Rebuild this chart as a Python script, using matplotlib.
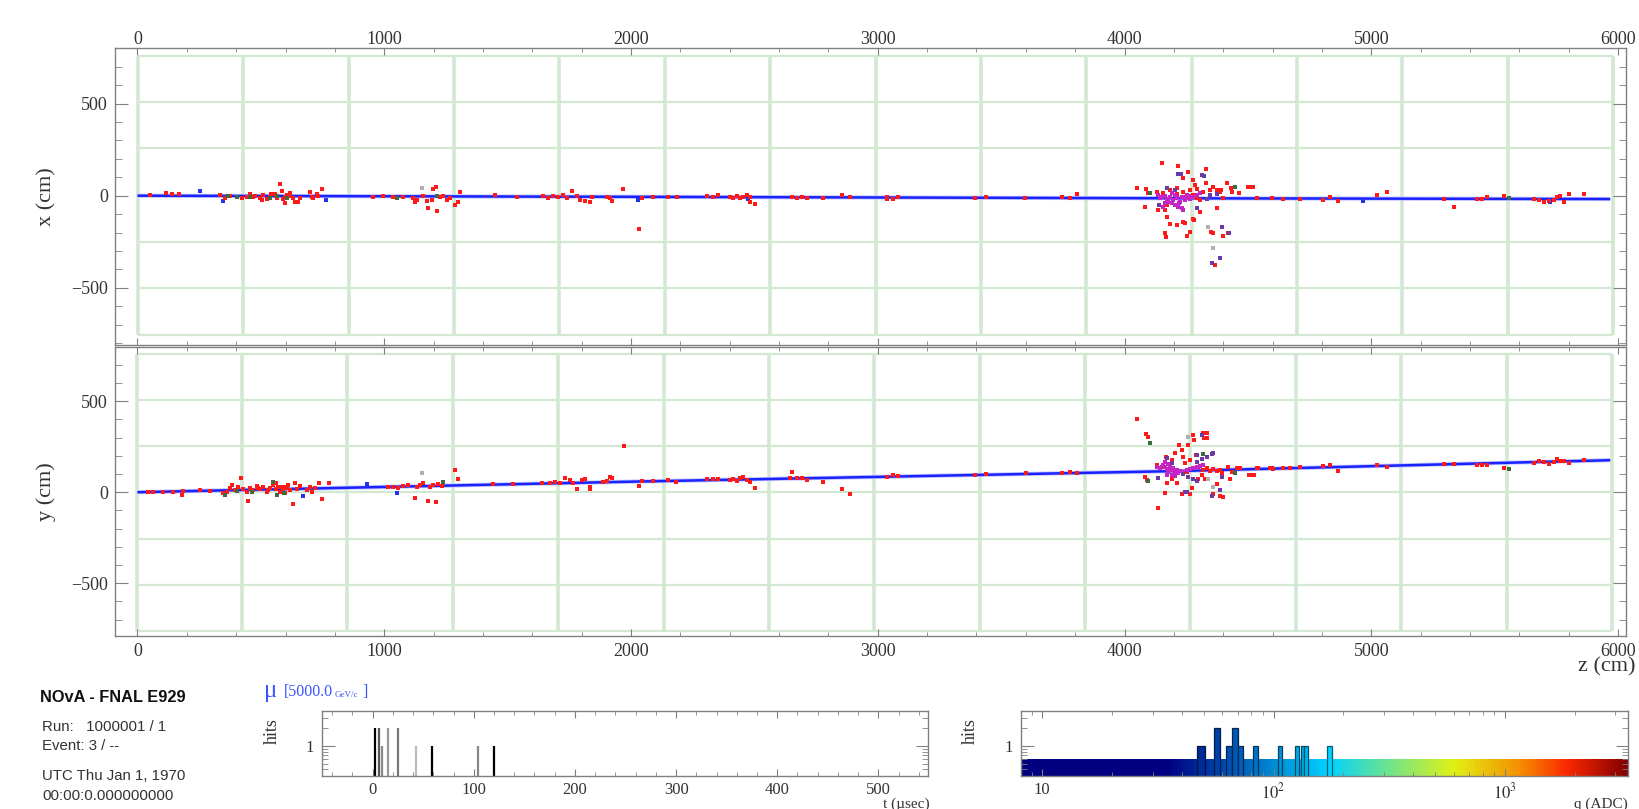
import numpy as np
import matplotlib.pyplot as plt
from matplotlib import ticker
from matplotlib.colors import LinearSegmentedColormap

W, H = 1639, 809

# detector outline (cm)
det_planes_xv = [2, 429, 856, 1283, 1710, 2137, 2564, 2991, 3418, 3845, 4272, 4699, 5126, 5553, 5980]
det_planes_yv = [-3, 424, 851, 1278, 1705, 2132, 2559, 2986, 3413, 3840, 4267, 4694, 5121, 5548, 5975]
det_rows_xv = [-757, -504, -251, 257, 510, 761]
det_rows_yv = [-760, -508, -255, 0, 255, 508, 762]

# reconstructed muon track
track_xv_z = [0, 2000, 4200, 5968]
track_xv_x = [0, -6, -14, -18]
track_yv_z = [0, 2000, 4200, 5968]
track_yv_y = [0, 58, 116, 176]

# hits, x view (z, x)
xv_red = [(50, 3), (115, 13), (138, 7), (170, 7), (334, 4), (355, -10), (375, 0),
          (422, -14), (443, -5), (456, 7), (476, 0), (497, -10), (510, 4), (524, -18),
          (537, -5), (557, 7), (564, -14), (578, 61), (584, 25), (598, -5), (605, 4),
          (598, -41), (618, 0), (632, -14), (638, -36), (652, -32), (658, -10), (699, 18),
          (706, -5), (726, 7), (747, 34), (713, -14), (733, 0), (470, -8), (540, 10),
          (590, -20), (620, 12), (505, -22), (560, -2), (956, -5), (996, 0), (1037, -9),
          (1077, -5), (1118, -14), (1125, -36), (1131, -23), (1158, 0), (1172, -27),
          (1179, -68), (1192, -23), (1199, 36), (1210, 50), (1212, -83), (1226, -5),
          (1239, 0), (1253, -23), (1266, -14), (1287, -50), (1300, -32), (1307, 18),
          (1449, 4), (1537, -5), (1645, 0), (1665, -10), (1685, 0), (1706, -5), (1726, 4),
          (1739, -10), (1760, 25), (1780, 0), (1793, -23), (1814, -27), (1834, -36),
          (1841, -5), (1915, -14), (1969, 36), (1901, -8), (1922, -27), (2034, -181),
          (2043, -14), (2090, -5), (2151, -5), (2185, -5), (2307, -1), (2334, -5),
          (2354, 4), (2401, -5), (2415, -10), (2428, -1), (2442, -10), (2455, -5),
          (2469, 4), (2482, -8), (2482, -32), (2502, -45), (2651, -5), (2671, -10),
          (2691, -5), (2712, -14), (2779, -14), (2856, 4), (2887, -5), (3036, -5),
          (3038, -18), (3063, -20), (3083, -5), (3393, -14), (3440, -9), (3596, -14),
          (3745, -9), (3778, -10), (3806, 7), (4052, 44), (4086, 36), (4096, 16),
          (4083, -60), (4152, 176), (4216, 163), (4256, 127), (4330, 143), (4236, 94),
          (4279, 85), (4287, 58), (4330, 67), (4357, 49), (4390, 31), (4417, 67),
          (4431, 40), (4437, 22), (4464, 16), (4502, 49), (4511, 49), (4521, 49),
          (4130, 22), (4157, 13), (4184, 31), (4211, 40), (4238, 22), (4265, 31),
          (4292, 36), (4319, 22), (4346, 31), (4373, 31), (4386, 22), (4279, 4),
          (4238, -5), (4211, 9), (4292, -14), (4306, -23), (4171, -50), (4164, -77),
          (4137, -77), (4171, -117), (4184, -154), (4211, -159), (4238, -141),
          (4245, -150), (4265, -195), (4254, -217), (4164, -204), (4167, -226),
          (4279, -129), (4283, -132), (4306, -87), (4292, -69), (4349, -195),
          (4359, -201), (4397, -219), (4421, -201), (4400, -14), (4373, -69),
          (4366, -377), (4535, -14), (4596, -15), (4643, -20), (4711, -18), (4806, -23),
          (4833, -5), (4863, -29), (5023, 2), (5063, 18), (5293, -18), (5336, -60),
          (5428, -18), (5448, -18), (5469, -9), (5536, -2), (5658, -18), (5678, -23),
          (5698, -32), (5719, -27), (5739, -23), (5752, -5), (5766, -2), (5780, -32),
          (5800, 9), (5861, 7)]
xv_magenta = [(4137, 4), (4151, -8), (4164, -1), (4171, -19), (4178, -32), (4184, -8),
              (4191, -41), (4198, -23), (4205, -50), (4211, -14), (4218, -59), (4225, -32),
              (4232, -69), (4238, -77), (4232, -5), (4245, -23), (4252, 4), (4265, -19),
              (4279, -5), (4292, 4), (4306, 13), (4191, 13), (4164, -41), (4157, -59),
              (4205, 4), (4145, -10), (4220, -40), (4250, -10), (4175, -25), (4260, 0)]
xv_purple = [(4218, 116), (4228, 118), (4312, 114), (4322, 107), (4171, 40), (4141, -50),
             (4333, -19), (4346, 4), (4373, 9), (4393, -172), (4424, -201), (4386, -336),
             (4356, -368), (4292, -69), (4205, 31)]
xv_green = [(368, 0), (402, -5), (456, -5), (537, -10), (564, 0), (605, -10), (1050, -10),
            (1212, 0), (4448, 49), (4103, 13), (5556, -14)]
xv_gray = [(1152, 40), (4359, -284), (4339, -172)]
xv_blue = [(255, 25), (348, -29), (766, -23), (2030, -23), (2475, -20), (4968, -27),
           (5725, -36)]

# hits, y view (z, y)
yv_red = [(44, 2), (64, 2), (105, 4), (145, 4), (179, -16), (186, 7), (253, 13), (294, 7),
          (348, -5), (361, 4), (375, 22), (382, 40), (395, 13), (409, 31), (420, 77),
          (429, 16), (443, 4), (449, -47), (456, 22), (470, 13), (483, 35), (497, 16),
          (510, 31), (524, 4), (537, 22), (551, 40), (561, 49), (571, 31), (578, 4),
          (584, 27), (591, 13), (598, -5), (605, 22), (612, 40), (618, 13), (632, -64),
          (638, 53), (645, 16), (659, 35), (686, 13), (699, 31), (709, 4), (719, 22),
          (737, 49), (746, -37), (777, 49), (530, 10), (560, 20), (600, 30), (490, 25),
          (1016, 27), (1037, 31), (1057, 22), (1077, 35), (1098, 40), (1125, -33),
          (1131, 27), (1145, 40), (1158, 49), (1179, -46), (1186, 27), (1199, 40),
          (1210, -53), (1219, 45), (1233, 35), (1287, 123), (1300, 71), (1442, 45),
          (1523, 45), (1638, 49), (1672, 53), (1692, 58), (1712, 53), (1733, 77),
          (1753, 68), (1766, 53), (1780, 20), (1800, 68), (1814, 71), (1834, 31),
          (1834, 16), (1888, 58), (1915, 82), (1972, 256), (1901, 64), (1922, 80),
          (2034, 35), (2043, 64), (2090, 64), (2151, 68), (2182, 55), (2307, 71),
          (2334, 71), (2354, 71), (2401, 68), (2415, 71), (2428, 64), (2442, 77),
          (2453, 82), (2469, 68), (2482, 58), (2502, 22), (2651, 112), (2645, 77),
          (2671, 77), (2691, 77), (2712, 68), (2779, 58), (2856, 16), (2887, -10),
          (3036, 86), (3060, 95), (3083, 90), (3393, 95), (3440, 99), (3599, 104),
          (3745, 108), (3778, 110), (3806, 104), (4052, 403), (4087, 320), (4097, 302),
          (4130, 150), (4151, 141), (4169, 196), (4178, 123), (4192, 178), (4205, 214),
          (4219, 260), (4232, 232), (4238, 196), (4245, 161), (4252, 113), (4265, 178),
          (4279, 315), (4281, 287), (4319, 327), (4333, 327), (4322, 297), (4333, 297),
          (4258, 260), (4288, 205), (4297, 141), (4319, 123), (4333, 132), (4346, 119),
          (4359, 127), (4373, 119), (4386, 123), (4393, 108), (4421, 141), (4434, 113),
          (4454, 132), (4468, 132), (4505, 95), (4515, 95), (4525, 95), (4535, 132),
          (4590, 132), (4671, 135), (4083, 86), (4090, 68), (4137, -88), (4164, -3),
          (4171, 52), (4192, 70), (4211, 52), (4232, -12), (4265, -12), (4272, 24),
          (4297, 70), (4312, 97), (4326, 70), (4359, -12), (4373, 43), (4386, -22),
          (4397, -26), (4427, 70), (4542, 132), (4597, 132), (4603, 128), (4643, 135),
          (4711, 141), (4806, 145), (4833, 148), (4863, 114), (5023, 147), (5063, 141),
          (5293, 154), (5333, 154), (5428, 147), (5448, 150), (5469, 147), (5536, 135),
          (5658, 163), (5678, 174), (5698, 168), (5719, 155), (5739, 168), (5752, 181),
          (5766, 174), (5780, 174), (5800, 159), (5861, 177)]
yv_magenta = [(4130, 141), (4144, 132), (4157, 150), (4164, 168), (4171, 126), (4178, 113),
              (4184, 141), (4191, 123), (4198, 132), (4205, 113), (4211, 123), (4218, 108),
              (4225, 119), (4238, 113), (4252, 123), (4265, 126), (4279, 132), (4292, 141),
              (4306, 145), (4319, 150), (4164, 141), (4178, 156), (4191, 95), (4171, 95),
              (4205, 90)]
yv_purple = [(4292, 168), (4312, 181), (4333, 196), (4353, 209), (4359, 214), (4312, 315),
             (4292, 205), (4238, 101), (4258, 86), (4279, 72), (4292, 64), (4137, 77),
             (4171, 186), (4393, 82), (4245, 4), (4254, 4), (4353, -21), (4386, 13),
             (4191, 159)]
yv_green = [(355, -15), (402, 9), (463, 4), (551, 58), (564, -15), (595, -2), (1240, 58),
            (4103, 270), (4097, 59), (4319, 210), (4448, 104), (5556, 126)]
yv_gray = [(1152, 108), (4258, 302), (4339, 70), (4359, 29)]
yv_blue = [(672, -20), (929, 45), (1050, -2)]

# hit timing histogram
hit_t = [2.3, 6.5, 9.3, 14.8, 25.5, 43.2, 59.2, 104.3, 119.9]
hit_t_counts = [2, 2, 1, 2, 2, 1, 1, 1, 1]
hit_t_shade = ['#000000', '#555555', '#888888', '#999999', '#777777', '#bbbbbb',
               '#000000', '#888888', '#000000']

# hit charge histogram
q_lo = [46.8, 55.0, 62.5, 66.3, 70.3, 81.8, 104.5, 123.8, 131.8, 136.0, 170.0]
q_hi = [50.7, 58.7, 66.3, 70.3, 74.0, 85.9, 108.3, 128.5, 136.0, 140.5, 178.6]
q_counts = [1, 2, 1, 2, 1, 1, 1, 1, 1, 1, 1]

# charge palette (log10 q -> colour), as seen on the strip
palette_logq = [1.54, 2.24, 2.45, 2.78, 3.07, 3.27, 3.53]
palette_rgb = [(0, 0, 128), (0, 210, 255), (90, 225, 160), (225, 240, 20),
               (245, 140, 0), (250, 40, 0), (130, 0, 0)]

SERIF = ['Liberation Serif', 'DejaVu Serif']
SANS = ['Liberation Sans', 'DejaVu Sans']
plt.rcParams['font.family'] = SERIF
plt.rcParams['mathtext.fontset'] = 'stix'

GRID = '#d3e8d3'
FRAME = '#808080'
TXT = '#333333'


def px_axes(fig, l, t, r, b):
    return fig.add_axes([l / W, 1 - b / H, (r - l) / W, (b - t) / H])


def style_frame(ax):
    for s in ax.spines.values():
        s.set_color(FRAME)
        s.set_linewidth(1.0)
    ax.tick_params(which='both', direction='in', colors=FRAME, labelcolor=TXT,
                   top=True, bottom=True, left=True, right=True)


def scatter_hits(ax, pts, color, s=6.5):
    z, v = np.array(pts).T
    ax.scatter(z, v, s=s, marker='s', color=color, linewidths=0, zorder=4)


def draw_view(ax, planes, rows, tz, tv, red, mag, pur, grn, gry, blu, ylim):
    ax.vlines(planes, rows[0], rows[-1], color=GRID, lw=2.6, zorder=1)
    ax.hlines(rows, planes[0], planes[-1], color=GRID, lw=1.6, zorder=1)
    ax.plot(tz, tv, color='#c0c4ff', lw=3.0, zorder=2, solid_capstyle='butt')
    ax.plot(tz, tv, color='#1a22ff', lw=1.8, zorder=3, solid_capstyle='butt')
    scatter_hits(ax, blu, '#2233ee')
    scatter_hits(ax, red, '#ff1a1a')
    scatter_hits(ax, gry, '#b0b0b0')
    scatter_hits(ax, grn, '#3d6b3d')
    scatter_hits(ax, mag, '#c625c6')
    scatter_hits(ax, pur, '#6a3aa8')
    ax.set_xlim(-91, 6032)
    ax.set_ylim(*ylim)
    style_frame(ax)
    ax.set_xticks(range(0, 6001, 1000))
    ax.xaxis.set_minor_locator(ticker.MultipleLocator(200))
    ax.set_yticks([-500, 0, 500])
    ax.yaxis.set_minor_locator(ticker.MultipleLocator(100))
    ax.tick_params(axis='y', which='major', length=9.5, pad=5, labelsize=13)
    ax.tick_params(axis='y', which='minor', length=5)
    ax.tick_params(axis='x', which='major', length=5, labelsize=13)
    ax.tick_params(axis='x', which='minor', length=3)


def draw_views(fig):
    ax1 = px_axes(fig, 115, 47.7, 1626, 345)
    draw_view(ax1, det_planes_xv, det_rows_xv, track_xv_z, track_xv_x, xv_red,
              xv_magenta, xv_purple, xv_green, xv_gray, xv_blue, (-811, 804))
    ax1.tick_params(axis='x', labeltop=True, labelbottom=False, pad=0)
    ax1.set_ylabel('x (cm)', fontsize=16, color=TXT)
    ax1.yaxis.set_label_coords(-0.039, 0.5)

    ax2 = px_axes(fig, 115, 347, 1626, 636)
    draw_view(ax2, det_planes_yv, det_rows_yv, track_yv_z, track_yv_y, yv_red,
              yv_magenta, yv_purple, yv_green, yv_gray, yv_blue, (-790, 798))
    ax2.tick_params(axis='x', labelbottom=True, labeltop=False, pad=5)
    ax2.set_ylabel('y (cm)', fontsize=16, color=TXT)
    ax2.yaxis.set_label_coords(-0.039, 0.5)
    fig.text(1636 / W, 1 - 667 / H, 'z (cm)', fontsize=16, color=TXT,
             ha='right', va='center')


def hist_axes_common(ax):
    style_frame(ax)
    ax.set_yscale('log')
    ax.set_ylim(0.31, 3.95)
    ax.set_yticks([1])
    ax.set_yticklabels(['1'])
    ax.yaxis.set_minor_locator(ticker.LogLocator(subs=np.arange(2, 10)))
    ax.yaxis.set_minor_formatter(ticker.NullFormatter())
    ax.tick_params(axis='y', which='major', length=9, pad=6, labelsize=12)
    ax.tick_params(axis='y', which='minor', length=4)
    ax.tick_params(axis='x', which='major', length=5, pad=4.5, labelsize=12)
    ax.tick_params(axis='x', which='minor', length=3)
    ax.set_ylabel('hits', fontsize=13, color=TXT)
    ax.yaxis.set_label_coords(-0.068, 0.69)


def draw_time(fig):
    ax = px_axes(fig, 322, 711, 928, 776)
    ax.vlines(hit_t, 0.2, hit_t_counts, colors=hit_t_shade, lw=1.6)
    ax.set_xlim(-50, 549)
    hist_axes_common(ax)
    ax.set_xticks(range(0, 501, 100))
    ax.xaxis.set_minor_locator(ticker.MultipleLocator(20))
    fig.text(930 / W, 1 - 808 / H, 't (\u00b5sec)', fontsize=11, color=TXT,
             ha='right', va='baseline')


def draw_charge(fig):
    ax = px_axes(fig, 1021, 711, 1628, 776)
    lo_l, hi_l = palette_logq[0], palette_logq[-1]
    cmap = LinearSegmentedColormap.from_list(
        'adc', [((v - lo_l) / (hi_l - lo_l), tuple(c / 255 for c in rgb))
                for v, rgb in zip(palette_logq, palette_rgb)])
    norm = plt.Normalize(lo_l, hi_l)
    edges = np.geomspace(8.1, 3400, 500)
    mids = np.sqrt(edges[:-1] * edges[1:])
    ax.pcolormesh(edges, [0.2, 0.6], np.log10(mids)[None, :], cmap=cmap, norm=norm,
                  shading='flat', zorder=1)
    lo, hi = np.array(q_lo), np.array(q_hi)
    cols = cmap(norm(np.log10(np.sqrt(lo * hi))))
    edge_cols = cols.copy()
    edge_cols[:, :3] *= 0.45
    ax.bar(lo, np.array(q_counts) - 0.2, width=hi - lo, bottom=0.2, align='edge',
           color=cols, edgecolor=edge_cols, linewidth=0.9, zorder=2)
    ax.set_xscale('log')
    ax.set_xlim(8.1, 3400)
    hist_axes_common(ax)
    ax.yaxis.set_label_coords(-0.069, 0.69)
    ax.set_xticks([10, 100, 1000])
    ax.set_xticklabels(['10', '$10^{2}$', '$10^{3}$'])
    ax.xaxis.set_minor_locator(ticker.LogLocator(subs=np.arange(2, 10)))
    ax.xaxis.set_minor_formatter(ticker.NullFormatter())
    fig.text(1628 / W, 1 - 808 / H, 'q (ADC)', fontsize=11, color=TXT,
             ha='right', va='baseline')


def draw_info(fig):
    fig.text(40 / W, 1 - 697 / H, 'NOvA - FNAL E929', family=SANS, fontweight='bold',
             fontsize=11.8, color='#111111', va='center')
    lines = [('Run:   1000001 / 1', 727), ('Event: 3 / --', 746),
             ('UTC Thu Jan 1, 1970', 776), ('00:00:0.000000000', 796)]
    for s, y in lines:
        fig.text(42 / W, 1 - y / H, s, family=SANS, fontsize=10.8, color='#333333',
                 va='center')
    blue = '#3a55ff'
    fig.text(264 / W, 1 - 691 / H, '\u03bc', fontsize=18, color=blue, va='center')
    fig.text(284 / W, 1 - 692 / H, '[5000.0', fontsize=11.5, color=blue, va='center')
    fig.text(335 / W, 1 - 695 / H, 'GeV/c', fontsize=6.5, color=blue, va='center')
    fig.text(362 / W, 1 - 692 / H, ']', fontsize=11.5, color=blue, va='center')


def main():
    fig = plt.figure(figsize=(W / 100, H / 100), dpi=100)
    draw_views(fig)
    draw_time(fig)
    draw_charge(fig)
    draw_info(fig)
    fig.savefig('out.png', dpi=100)


if __name__ == '__main__':
    main()
